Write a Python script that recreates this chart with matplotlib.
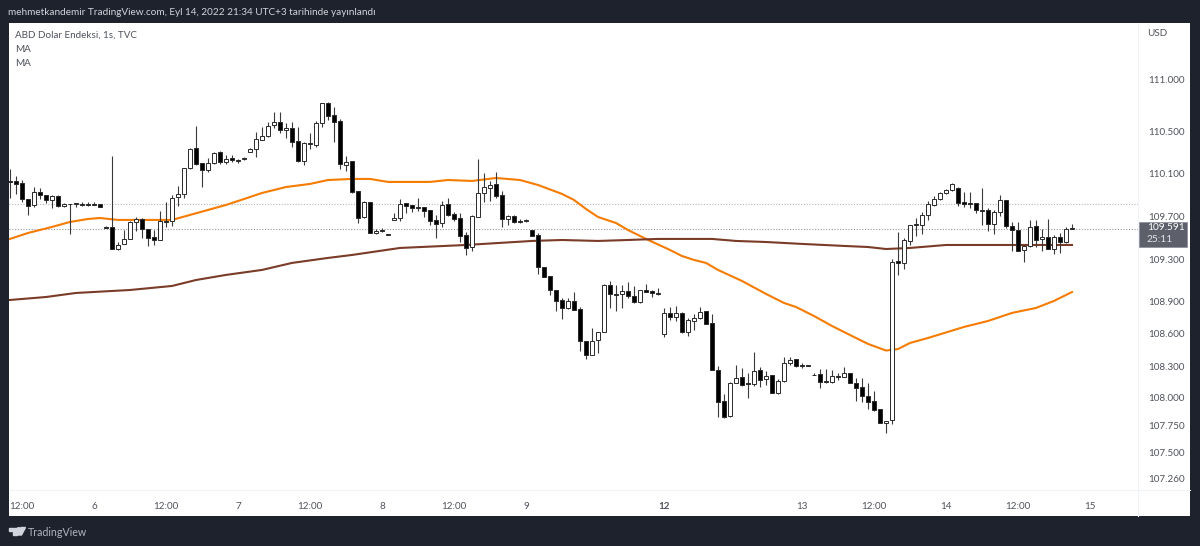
# -*- coding: utf-8 -*-
import matplotlib
matplotlib.use("Agg")
import matplotlib.pyplot as plt
from matplotlib.patches import Rectangle, Polygon, Circle

plt.rcParams['font.family'] = ['Lato', 'DejaVu Sans']

# candle values, bar 0 = first hourly bar on the left
opens = [
    110.06, 110.06, 110.036, 109.888, 109.832, 109.951, 109.923, 109.882, 109.920, 109.822,
    109.841, 109.847, 109.844, 109.841, 109.838, 109.838, 109.628, 109.624, 109.417, 109.461,
    109.515, 109.675, 109.703, 109.606, 109.527, 109.505, 109.684, 109.681, 109.904, 109.935,
    110.180, 110.369, 110.224, 110.165, 110.227, 110.331, 110.234, 110.271, 110.252, 110.265,
    110.334, 110.356, 110.447, 110.479, 110.582, 110.617, 110.538, 110.557, 110.435, 110.249,
    110.413, 110.400, 110.607, 110.796, 110.680, 110.626, 110.212, 110.243, 109.964, 109.716,
    109.863, 109.565, 109.596, 109.555, 109.690, 109.709, 109.847, 109.832, 109.813, 109.810,
    109.781, 109.690, 109.659, 109.844, 109.747, 109.712, 109.546, 109.433, 109.722, 109.948,
    109.995, 110.029, 109.926, 109.700, 109.731, 109.678, 109.681, 109.593, 109.546, 109.245,
    109.163, 109.028, 108.940, 108.865, 108.928, 108.852, 108.554, 108.422, 108.560, 108.639,
    109.078, 108.990, 108.996, 109.022, 108.978, 108.915, 109.028, 109.022, 109.000, 108.613,
    108.814, 108.780, 108.817, 108.638, 108.742, 108.764, 108.830, 108.717, 108.281, 107.982,
    107.841, 108.158, 108.215, 108.152, 108.146, 108.277, 108.189, 108.230, 108.061, 108.171,
    108.343, 108.378, 108.324, 108.324, 108.233, 108.237, 108.171, 108.167, 108.218, 108.215,
    108.252, 108.155, 108.114, 108.032, 107.982, 107.907, 107.781, 107.806, 109.305, 109.283,
    109.496, 109.650, 109.641, 109.735, 109.832, 109.889, 109.945, 109.974, 109.996, 109.857,
    109.848, 109.851, 109.788, 109.785, 109.650, 109.763, 109.883, 109.638, 109.597, 109.405,
    109.446, 109.631, 109.512, 109.534, 109.421, 109.534, 109.481, 109.612,
]
closes = [
    110.05, 110.03, 109.885, 109.822, 109.951, 109.923, 109.879, 109.913, 109.825, 109.844,
    109.838, 109.841, 109.835, 109.829, 109.835, 109.810, 109.618, 109.417, 109.455, 109.515,
    109.668, 109.700, 109.602, 109.524, 109.502, 109.684, 109.672, 109.901, 109.935, 110.180,
    110.362, 110.218, 110.165, 110.231, 110.325, 110.234, 110.265, 110.252, 110.249, 110.274,
    110.359, 110.453, 110.479, 110.579, 110.617, 110.538, 110.557, 110.425, 110.249, 110.413,
    110.403, 110.607, 110.789, 110.673, 110.614, 110.218, 110.237, 109.954, 109.706, 109.863,
    109.565, 109.590, 109.584, 109.546, 109.712, 109.844, 109.825, 109.803, 109.807, 109.775,
    109.684, 109.656, 109.835, 109.741, 109.703, 109.537, 109.423, 109.725, 109.942, 109.998,
    110.023, 109.916, 109.700, 109.731, 109.668, 109.675, 109.687, 109.537, 109.245, 109.157,
    109.028, 108.931, 108.858, 108.924, 108.846, 108.547, 108.419, 108.554, 108.635, 109.078,
    108.990, 108.987, 109.022, 108.974, 108.915, 109.028, 109.015, 109.003, 108.990, 108.817,
    108.780, 108.811, 108.638, 108.745, 108.767, 108.821, 108.714, 108.277, 107.973, 107.832,
    108.158, 108.205, 108.136, 108.146, 108.268, 108.183, 108.224, 108.061, 108.174, 108.343,
    108.375, 108.312, 108.315, 108.315, 108.227, 108.167, 108.161, 108.218, 108.215, 108.246,
    108.152, 108.105, 108.029, 107.979, 107.901, 107.781, 107.800, 109.295, 109.283, 109.499,
    109.641, 109.641, 109.735, 109.842, 109.886, 109.942, 109.974, 110.030, 109.848, 109.842,
    109.839, 109.785, 109.776, 109.650, 109.766, 109.883, 109.631, 109.594, 109.399, 109.446,
    109.628, 109.506, 109.528, 109.421, 109.528, 109.481, 109.609, 109.606,
]
highs = [
    110.168, 110.105, 110.064, 109.888, 110.004, 109.992, 109.923, 109.923, 109.926, 109.851,
    109.841, 109.854, 109.857, 109.860, 109.860, 109.838, 109.634, 110.293, 109.483, 109.596,
    109.681, 109.716, 109.706, 109.606, 109.596, 109.778, 109.857, 109.923, 110.011, 110.183,
    110.372, 110.576, 110.224, 110.278, 110.331, 110.344, 110.303, 110.303, 110.268, 110.281,
    110.365, 110.523, 110.570, 110.617, 110.705, 110.711, 110.607, 110.610, 110.570, 110.428,
    110.507, 110.626, 110.796, 110.802, 110.752, 110.639, 110.293, 110.243, 109.964, 109.869,
    109.863, 109.602, 109.612, 109.555, 109.759, 109.885, 109.847, 109.832, 109.894, 109.810,
    109.781, 109.737, 109.869, 109.894, 109.769, 109.753, 109.580, 109.737, 110.262, 110.136,
    110.055, 110.139, 109.967, 109.734, 109.737, 109.697, 109.697, 109.593, 109.565, 109.245,
    109.163, 109.028, 108.952, 108.956, 109.009, 108.874, 108.554, 108.670, 108.639, 109.084,
    109.116, 109.078, 109.075, 109.110, 109.069, 109.034, 109.084, 109.031, 109.047, 108.858,
    108.868, 108.880, 108.824, 108.764, 108.805, 108.868, 108.830, 108.805, 108.318, 108.051,
    108.161, 108.321, 108.293, 108.246, 108.450, 108.303, 108.268, 108.230, 108.189, 108.403,
    108.403, 108.378, 108.340, 108.324, 108.246, 108.284, 108.284, 108.277, 108.246, 108.303,
    108.252, 108.199, 108.199, 108.152, 108.076, 107.907, 107.800, 109.326, 109.578, 109.518,
    109.644, 109.713, 109.766, 109.873, 109.917, 109.955, 109.980, 110.036, 109.999, 109.952,
    109.958, 109.851, 109.996, 109.801, 109.785, 109.923, 109.883, 109.675, 109.675, 109.456,
    109.691, 109.691, 109.603, 109.697, 109.547, 109.565, 109.628, 109.653,
]
lows = [
    109.901, 109.935, 109.860, 109.741, 109.810, 109.891, 109.847, 109.803, 109.810, 109.816,
    109.562, 109.810, 109.822, 109.825, 109.835, 109.810, 109.618, 109.417, 109.405, 109.461,
    109.515, 109.584, 109.524, 109.449, 109.452, 109.505, 109.624, 109.634, 109.822, 109.898,
    110.174, 110.209, 110.004, 110.139, 110.218, 110.218, 110.218, 110.234, 110.231, 110.256,
    110.331, 110.287, 110.441, 110.475, 110.557, 110.513, 110.460, 110.375, 110.240, 110.205,
    110.362, 110.381, 110.563, 110.632, 110.428, 110.171, 110.155, 109.945, 109.665, 109.706,
    109.565, 109.559, 109.580, 109.546, 109.690, 109.678, 109.753, 109.769, 109.775, 109.716,
    109.643, 109.518, 109.621, 109.728, 109.681, 109.483, 109.364, 109.401, 109.716, 109.860,
    109.872, 109.898, 109.621, 109.643, 109.659, 109.659, 109.675, 109.537, 109.182, 109.157,
    108.987, 108.836, 108.758, 108.852, 108.843, 108.453, 108.378, 108.416, 108.441, 108.635,
    108.865, 108.833, 108.858, 108.959, 108.912, 108.912, 109.009, 108.962, 108.984, 108.591,
    108.748, 108.742, 108.623, 108.598, 108.654, 108.755, 108.711, 108.277, 107.838, 107.822,
    107.835, 108.152, 108.127, 108.010, 108.130, 108.120, 108.136, 108.058, 108.054, 108.167,
    108.324, 108.303, 108.299, 108.315, 108.227, 108.111, 108.152, 108.158, 108.183, 108.208,
    108.152, 107.985, 107.976, 107.907, 107.894, 107.778, 107.687, 107.769, 109.173, 109.226,
    109.456, 109.540, 109.559, 109.691, 109.823, 109.879, 109.936, 109.967, 109.823, 109.817,
    109.807, 109.754, 109.644, 109.590, 109.559, 109.729, 109.612, 109.402, 109.396, 109.298,
    109.440, 109.440, 109.402, 109.415, 109.371, 109.383, 109.478, 109.603,
]

# moving averages read at a few bars
ma_fast_bars = [0, 3, 7, 10, 13, 15, 18, 22, 27, 30, 33, 36, 39, 42, 46, 50, 53, 57, 60, 63, 70, 73, 77,
                81, 85, 88, 92, 94, 96, 98, 101, 103, 106, 110, 112, 114, 116, 118, 122, 126, 129, 131,
                134, 137, 140, 143, 146, 148, 150, 153, 159, 163, 167, 171, 174, 177]
ma_fast = [109.512, 109.568, 109.625, 109.672, 109.700, 109.709, 109.691, 109.691, 109.691, 109.738,
           109.785, 109.832, 109.888, 109.945, 110.001, 110.030, 110.067, 110.077, 110.077, 110.049,
           110.049, 110.067, 110.058, 110.086, 110.067, 110.020, 109.936, 109.879, 109.794, 109.719,
           109.662, 109.596, 109.512, 109.408, 109.351, 109.314, 109.286, 109.220, 109.116, 108.994,
           108.909, 108.871, 108.786, 108.692, 108.607, 108.523, 108.461, 108.475, 108.532, 108.579,
           108.683, 108.739, 108.815, 108.862, 108.928, 109.012]
ma_slow_bars = [0, 6, 11, 20, 27, 31, 36, 42, 47, 53, 57, 65, 76, 87, 92, 98, 103, 108, 117, 121,
                126, 132, 139, 143, 146, 150, 156, 177]
ma_slow = [108.937, 108.965, 109.003, 109.031, 109.069, 109.125, 109.173, 109.220, 109.286, 109.333,
           109.361, 109.427, 109.455, 109.493, 109.502, 109.493, 109.502, 109.512, 109.512, 109.493,
           109.483, 109.465, 109.446, 109.436, 109.417, 109.427, 109.455, 109.455]

prev_close = 109.838
# TradingView's scale labels do not sit quite evenly, positions follow the picture
price_ticks = [111.016, 110.520, 110.124, 109.723, 109.318, 108.921, 108.617, 108.315, 108.014, 107.759, 107.500, 107.260]
price_labels = ["111.000", "110.500", "110.100", "109.700", "109.300", "108.900",
                "108.600", "108.300", "108.000", "107.750", "107.500", "107.260"]
time_bars = [2, 14, 26, 38, 50, 62, 74, 86, 109, 132, 144, 156, 168, 180]
time_labels = ["12:00", "6", "12:00", "7", "12:00", "8", "12:00", "9", "12", "13", "12:00", "14", "12:00", "15"]

DARK = "#1e222d"
TXT = "#50535e"

fig = plt.figure(figsize=(12, 5.46), dpi=100, facecolor=DARK)

# page furniture in pixel coordinates
ui = fig.add_axes([0, 0, 1, 1])
ui.set_xlim(0, 1200)
ui.set_ylim(546, 0)
ui.axis("off")
ui.add_patch(Rectangle((9, 23), 1181, 493, facecolor="white", edgecolor="none"))
ui.plot([1138, 1138], [23, 516], color="#f0f3fa", lw=0.8)
ui.plot([9, 1190], [490, 490], color="#f0f3fa", lw=0.8)
ui.text(8, 12.5, "mehmetkandemir TradingView.com, Eyl 14, 2022 21:34 UTC+3 tarihinde yayınlandı",
        color="#d1d4dc", fontsize=7.2, va="center")
ui.text(15, 35, "ABD Dolar Endeksi, 1s, TVC", color=TXT, fontsize=7.1, va="center")
ui.text(15, 49, "MA", color=TXT, fontsize=7.1, va="center")
ui.text(15, 63, "MA", color=TXT, fontsize=7.1, va="center")
ui.text(1147, 33, "USD", color=TXT, fontsize=7.1, va="center")

# logo
ui.add_patch(Polygon([(9, 527.5), (16.5, 527.5), (16.5, 535), (13, 535), (13, 531), (9, 531)], color="#d1d4dc"))
ui.add_patch(Circle((18.7, 529.5), 1.8, color="#d1d4dc"))
ui.add_patch(Polygon([(21, 527.5), (25.5, 527.5), (21.5, 535), (17.5, 535)], color="#d1d4dc"))
ui.text(28, 532, "TradingView", color="#b2b5be", fontsize=7.7, va="center")

# chart
ax = fig.add_axes([9 / 1200, 1 - 490 / 546, 1129 / 1200, 467 / 546])
ax.patch.set_alpha(0)
ax.set_xlim(-1 / 6, 188)
ax.set_ylim(107.147, 111.546)
for s in ax.spines.values():
    s.set_visible(False)

bars = list(range(len(opens)))

ax.axhline(prev_close, color="#b2b5be", lw=0.8, ls=(0, (1, 1.5)), zorder=1)
ax.axhline(closes[-1], color="#9598a1", lw=0.8, ls=(0, (1, 1.5)), zorder=1)

ax.plot(ma_fast_bars, ma_fast, color="#f57c00", lw=1.5, solid_joinstyle="round", zorder=2)
ax.plot(ma_slow_bars, ma_slow, color="#7a3b27", lw=1.5, solid_joinstyle="round", zorder=2)

ax.vlines(bars, lows, highs, color="#3a3a3a", lw=0.8, zorder=3)
fills = ["white" if c >= o else "black" for o, c in zip(opens, closes)]
ax.bar(bars, [abs(c - o) for o, c in zip(opens, closes)], bottom=[min(o, c) for o, c in zip(opens, closes)],
       width=0.68, color=fills, edgecolor="#2a2a2a", linewidth=0.7, zorder=4)

ax.yaxis.tick_right()
ax.set_yticks(price_ticks)
ax.set_yticklabels(price_labels, color=TXT, fontsize=7.1)
ax.tick_params(axis="y", length=0, pad=7)
ax.set_xticks(time_bars)
ax.set_xticklabels(time_labels, color=TXT, fontsize=7.1)
ax.tick_params(axis="x", length=0, pad=8.5)
ax.get_xticklabels()[8].set_fontweight("bold")

# last price tag
ui.add_patch(Rectangle((1138.5, 221.5), 48.5, 25.5, facecolor="#5d606b", edgecolor="#8a8d96", lw=0.5, zorder=5))
ui.text(1147, 228, "109.591", color="white", fontsize=7.3, va="center", zorder=6)
ui.text(1147, 240, "25:11", color="#e4e5ea", fontsize=7.3, va="center", zorder=6)

fig.savefig("out.png", dpi=100, facecolor=DARK)
